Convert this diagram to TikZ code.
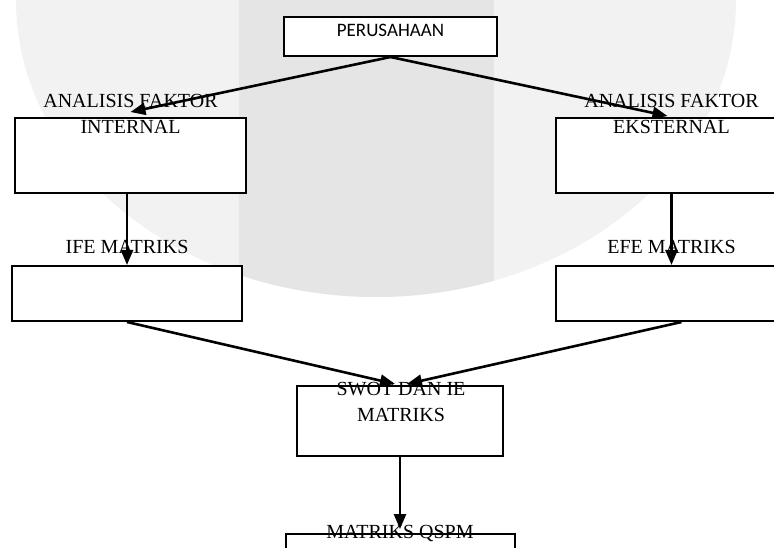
\documentclass[tikz,border=0pt]{standalone}
\usepackage{fontspec}
\newfontfamily\tnrfont{Liberation Serif}
\newfontfamily\calibfont{Carlito}
\usetikzlibrary{arrows.meta}
\tikzset{>={Triangle[length=15pt,width=12pt]}}
\tikzset{box/.style={draw, line width=2pt, fill=white, inner sep=0pt},
	lbl/.style={inner sep=0pt, align=center, anchor=north, font=\tnrfont\fontsize{20}{26}\selectfont},
	arr/.style={->, line width=2.6pt}}

\begin{document}
\begin{tikzpicture}[x=1pt, y=1pt]
	\useasboundingbox (0,0) rectangle (774,547);
	\clip (0,0) rectangle (774,547);
	% watermark
	\fill[black!5] (376,547) ellipse [x radius=360, y radius=297];
	\begin{scope}
		\clip (376,547) ellipse [x radius=360, y radius=297];
		\fill[black!10] (239,0) rectangle (494,547);
	\end{scope}
	% boxes
	\node[box, minimum width=213pt, minimum height=39pt, text depth=12pt, font=\calibfont\fontsize{19}{23}\selectfont] (per) at (390.5,510.5) {PERUSAHAAN};
	\node[box, minimum width=231pt, minimum height=75pt] (aint) at (130.5,391.5) {};
	\node[box, minimum width=231pt, minimum height=75pt] (aeks) at (671.5,391.5) {};
	\node[box, minimum width=230pt, minimum height=55pt] (ife) at (127,253.5) {};
	\node[box, minimum width=231pt, minimum height=55pt] (efe) at (671.5,253.5) {};
	\node[box, minimum width=206pt, minimum height=70pt] (swot) at (400,126) {};
	\node[box, minimum width=229pt, minimum height=40pt] (qspm) at (400,-7) {};
	% texts
	\node[lbl] (aint-t) at ([yshift=23pt]aint.north) {ANALISIS FAKTOR\\INTERNAL};
	\node[lbl] (aeks-t) at ([yshift=23pt]aeks.north) {ANALISIS FAKTOR\\EKSTERNAL};
	\node[lbl] (ife-t) at ([yshift=25pt]ife.north) {IFE MATRIKS};
	\node[lbl] (efe-t) at ([yshift=25pt]efe.north) {EFE MATRIKS};
	\node[lbl] (swot-t) at ([xshift=1pt,yshift=3pt]swot.north) {SWOT DAN IE\\MATRIKS};
	\node[lbl] (qspm-t) at ([yshift=8pt]qspm.north) {MATRIKS QSPM};
	% arrows
	\draw[arr] (per.south) -- ([yshift=5pt]aint.north);
	\draw[arr] (per.south) -- ([xshift=-4pt,yshift=1pt]aeks.north);
	\draw[arr] (ife.north |- aint.south) -- (ife.north);
	\draw[arr] (aeks.south) -- (efe.north);
	\draw[arr] (ife.south) -- ([xshift=-5pt,yshift=1pt]swot.north);
	\draw[arr] ([xshift=10pt]efe.south) -- ([xshift=7pt,yshift=1pt]swot.north);
	\draw[arr] (swot.south) -- ([yshift=4pt]qspm.north);
\end{tikzpicture}
\end{document}
